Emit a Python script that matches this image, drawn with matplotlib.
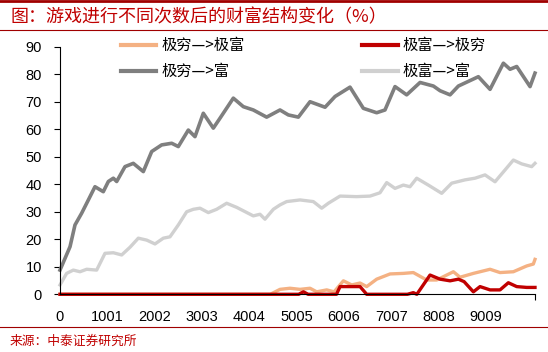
import numpy as np
import matplotlib
matplotlib.use("Agg")
import matplotlib.pyplot as plt
from matplotlib.lines import Line2D

plt.rcParams['font.family'] = ['Noto Sans CJK SC', 'DejaVu Sans']

# series (x = number of rounds, y = %)
poor_rich_x = [0, 4450, 4655, 4866, 5078, 5290, 5431, 5643, 5800, 5996, 6172, 6348, 6489,
               6700, 6983, 7264, 7476, 7758, 7970, 8323, 8464, 8746, 9099, 9310, 9592,
               9874, 10015, 10050]
poor_rich_y = [0, 0, 1.8, 2.2, 1.8, 2.2, 0.9, 1.6, 0.9, 4.9, 3.4, 4.1, 2.8,
               5.5, 7.4, 7.6, 7.9, 5.2, 5.2, 8.2, 6.2, 7.6, 9.1, 7.9, 8.2,
               10.3, 11, 12.7]

rich_poor_x = [0, 5050, 5150, 5250, 5850, 5925, 6348, 6489, 7350, 7476, 7550, 7829,
               8041, 8253, 8429, 8550, 8746, 8887, 9099, 9310, 9486, 9663, 9874, 10050]
rich_poor_y = [0, 0, 0.9, 0, 0, 2.8, 2.8, 0, 0, 0.6, 0, 7,
               5.5, 4.9, 5.5, 4.6, 0.9, 2.8, 1.6, 1.6, 4.2, 2.8, 2.5, 2.5]

poor_well_x = [0, 212, 317, 459, 600, 740, 916, 1023, 1129, 1199, 1375, 1551, 1763,
               1940, 2151, 2363, 2503, 2715, 2856, 3032, 3244, 3385, 3667, 3879, 4090,
               4372, 4655, 4831, 5043, 5290, 5608, 5819, 6136, 6418, 6700, 6876, 7088,
               7335, 7618, 7900, 8041, 8253, 8429, 8852, 9099, 9381, 9522, 9663, 9945, 10050]
poor_well_y = [8.8, 17.3, 25.2, 29.5, 34.3, 39.1, 37.3, 41, 42.2, 41, 46.4, 47.6, 44.6,
               51.9, 54.3, 54.9, 53.7, 59.7, 57.3, 65.8, 60.4, 64, 71.3, 68.2, 67,
               64.4, 67, 65.2, 64.4, 70, 68, 71.9, 75.3, 67.6, 66, 67, 75.5,
               72.5, 77, 75.7, 74, 72.5, 75.7, 79.1, 74.5, 84, 81.8, 82.8, 75.5, 80.4]

rich_well_x = [0, 140, 281, 423, 564, 776, 952, 1129, 1305, 1481, 1657, 1834, 2010,
               2186, 2327, 2503, 2680, 2821, 2962, 3138, 3315, 3526, 3738, 4090, 4231,
               4337, 4514, 4655, 4795, 5078, 5360, 5537, 5678, 5925, 6277, 6559, 6770,
               6912, 7088, 7264, 7405, 7547, 7793, 8076, 8288, 8570, 8781, 8993, 9204,
               9416, 9592, 9769, 9980, 10050]
rich_well_y = [3.4, 7.6, 8.8, 8.2, 9.1, 8.8, 14.9, 15.1, 14.3, 17.1, 20.4, 19.7, 18.3,
               20.4, 20.9, 25.2, 30, 30.9, 31.3, 29.7, 30.9, 33.1, 31.6, 28.5, 29.1,
               27.3, 30.9, 32.5, 33.7, 34.3, 33.7, 31.3, 33.1, 35.7, 35.5, 35.7, 36.9,
               40.6, 38.5, 39.7, 39.1, 42.2, 39.7, 36.7, 40.4, 41.6, 42.2, 43.4, 40.9,
               45.2, 48.8, 47.4, 46.4, 47.6]

xticks = [0, 1001, 2002, 3003, 4004, 5005, 6006, 7007, 8008, 9009]
labels = ['极穷—>极富', '极富—>极穷', '极穷—>富', '极富—>富']

fig = plt.figure(figsize=(5.48, 3.52), dpi=100)
ax = fig.add_axes([60/548, 1-294.3/352, 475/548, (294.3-46.7)/352])

l1, = ax.plot(poor_rich_x, poor_rich_y, color='#F4B183', lw=2.4, clip_on=False)
l2, = ax.plot(rich_poor_x, rich_poor_y, color='#C00000', lw=2.4, clip_on=False)
l3, = ax.plot(poor_well_x, poor_well_y, color='#7F7F7F', lw=2.6, clip_on=False)
l4, = ax.plot(rich_well_x, rich_well_y, color='#D0D0D0', lw=2.4, clip_on=False)

ax.set_xlim(0, 10050)
ax.set_ylim(0, 90)
ax.set_yticks(range(0, 91, 10))
ax.set_xticks(xticks)
ax.set_xticks([10050], minor=True)
for s in ['top', 'right']:
    ax.spines[s].set_visible(False)
for s in ['left', 'bottom']:
    ax.spines[s].set_linewidth(0.8)
    ax.spines[s].set_color('black')
ax.tick_params(axis='y', length=4, width=0.8, pad=9, labelsize=10.5)
ax.tick_params(axis='x', which='major', length=0, pad=11, labelsize=10.5)
ax.tick_params(axis='x', which='minor', length=4, width=0.8)
for t in ax.get_xticklabels() + ax.get_yticklabels():
    t.set_family('Liberation Sans')

leg = fig.legend([l1, l3, l2, l4], [labels[0], labels[2], labels[1], labels[3]],
                 ncol=2, loc='upper left', bbox_to_anchor=(121/548, 1-37/352),
                 frameon=False, fontsize=11, handlelength=2.3, handletextpad=0.35,
                 columnspacing=7.7, labelspacing=0.6, borderpad=0, borderaxespad=0)
for h in leg.get_lines():
    h.set_linewidth(3)

# header / footer
red = '#C00000'
fig.add_artist(Line2D([0, 1], [1-1/352, 1-1/352], color='#A00000', lw=2, transform=fig.transFigure))
fig.add_artist(Line2D([0, 1], [1-30/352, 1-30/352], color='#A00000', lw=0.8, transform=fig.transFigure))
fig.add_artist(Line2D([0, 1], [1-327/352, 1-327/352], color='#A00000', lw=0.8, transform=fig.transFigure))
fig.text(10/548, 1-17/352, '图：游戏进行不同次数后的财富结构变化（%）', color=red,
         fontsize=13, fontstyle='italic', va='center', ha='left')
fig.text(10/548, 1-341/352, '来源：中泰证券研究所', color=red, fontsize=9.2,
         fontstyle='italic', va='center', ha='left')

fig.savefig('out.png', dpi=100, facecolor='white')
